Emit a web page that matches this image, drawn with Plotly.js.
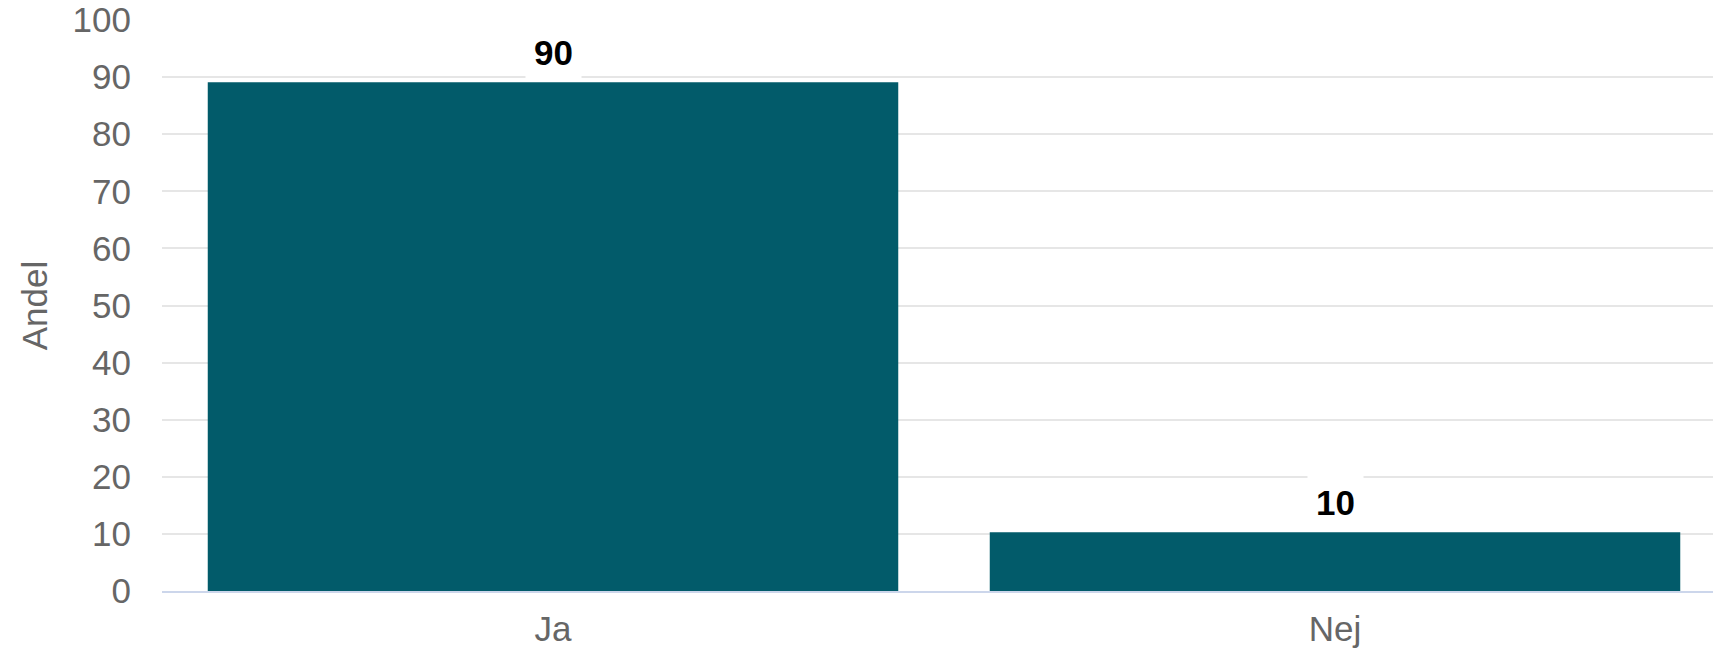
<!DOCTYPE html>
<html>
<head>
<meta charset="utf-8">
<script src="https://cdn.plot.ly/plotly-3.0.1.min.js"></script>
<style>
html,body{margin:0;padding:0;overflow:hidden;background:#fff;}
#chart{width:1726px;height:651px;}
</style>
</head>
<body>
<div id="chart"></div>
<script>
const categories = ["Ja", "Nej"];
const values = [89.1, 10.3];
const valueLabels = ["90", "10"];
const yTickVals = [0, 10, 20, 30, 40, 50, 60, 70, 80, 90, 100];

const font = "Liberation Sans, Arial, sans-serif";

const trace = {
  type: "bar",
  x: categories,
  y: values,
  marker: {color: "#025b6a"},
  hoverinfo: "x+y"
};

const annotations = categories.map((c, i) => ({
  x: c,
  y: values[i],
  xref: "x",
  yref: "y",
  text: "<b>" + valueLabels[i] + "</b>",
  showarrow: false,
  yanchor: "bottom",
  yshift: 1,
  bgcolor: "#ffffff",
  borderpad: 8,
  font: {family: font, size: 35, color: "#000000"}
}));

const layout = {
  width: 1726,
  height: 651,
  margin: {l: 162, r: 0, t: 20, b: 60},
  paper_bgcolor: "#ffffff",
  plot_bgcolor: "#ffffff",
  bargap: 0.117,
  showlegend: false,
  font: {family: font, color: "#666666", size: 35},
  xaxis: {
    type: "category",
    showgrid: false,
    showline: true,
    linecolor: "#ccd6eb",
    linewidth: 2,
    ticks: "",
    ticklabelstandoff: 6,
    tickfont: {family: font, size: 35, color: "#666666"}
  },
  yaxis: {
    range: [0, 100],
    tickvals: yTickVals,
    showgrid: true,
    gridcolor: "#e6e6e6",
    gridwidth: 2,
    zeroline: false,
    showline: false,
    ticks: "",
    ticklabelstandoff: 30,
    tickfont: {family: font, size: 35, color: "#666666"},
    title: {text: "Andel", font: {family: font, size: 35, color: "#666666"}, standoff: 14}
  },
  annotations: annotations
};

Plotly.newPlot("chart", [trace], layout, {displayModeBar: false, staticPlot: true});
</script>
</body>
</html>
